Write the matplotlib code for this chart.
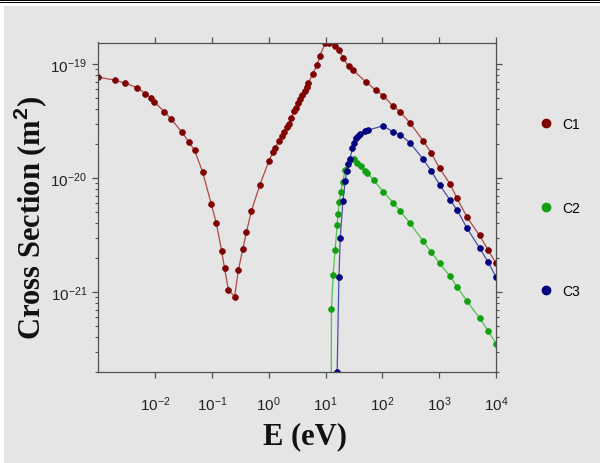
import matplotlib
matplotlib.use("Agg")
import matplotlib.pyplot as plt
from matplotlib.lines import Line2D
from matplotlib.patches import Rectangle
from matplotlib.ticker import FixedLocator, LogLocator, LogFormatterMathtext, NullFormatter, NullLocator

# ---------------- data ----------------
c1_E = [1.0e-3, 1.97e-3, 2.96e-3, 4.88e-3, 6.76e-3, 8.38e-3, 9.73e-3, 0.0146, 0.0194, 0.0295,
        0.0392, 0.0494, 0.0685, 0.0975, 0.119, 0.148, 0.167, 0.195, 0.251, 0.292,
        0.348, 0.404, 0.495, 0.700, 1.0, 1.19, 1.29, 1.52, 1.70, 1.88,
        2.10, 2.24, 2.47, 2.79, 3.00, 3.28, 3.55, 3.87, 4.27, 4.63,
        4.98, 5.98, 7.12, 7.94, 9.93, 11.7, 14.9, 17.4, 20.5, 25.5,
        30.4, 51.5, 76.3, 103, 154, 205, 308, 522, 717, 1020,
        1549, 2061, 3092, 5140, 7318, 1.0e4]
c1_S = [7.65e-20, 7.20e-20, 6.78e-20, 6.17e-20, 5.47e-20, 5.07e-20, 4.62e-20, 3.80e-20, 3.26e-20, 2.53e-20,
        2.07e-20, 1.75e-20, 1.13e-20, 5.89e-21, 4.05e-21, 2.30e-21, 1.61e-21, 1.04e-21, 9.12e-22, 1.55e-21,
        2.36e-21, 3.33e-21, 5.15e-21, 8.71e-21, 1.40e-20, 1.68e-20, 1.84e-20, 2.11e-20, 2.31e-20, 2.51e-20,
        2.81e-20, 3.00e-20, 3.33e-20, 3.86e-20, 4.12e-20, 4.56e-20, 4.90e-20, 5.36e-20, 5.73e-20, 6.25e-20,
        6.82e-20, 8.23e-20, 9.80e-20, 1.18e-19, 1.53e-19, 1.52e-19, 1.43e-19, 1.32e-19, 1.12e-19, 9.51e-20,
        8.83e-20, 6.93e-20, 5.89e-20, 5.28e-20, 4.27e-20, 3.80e-20, 3.03e-20, 2.12e-20, 1.67e-20, 1.21e-20,
        8.89e-21, 6.62e-21, 4.53e-21, 3.13e-21, 2.32e-21, 1.78e-21]

c2_E = [12.4, 12.7, 13.6, 14.7, 16.0, 16.5, 17.5, 18.5, 20.0, 22.1,
        26.9, 31.6, 35.4, 41.7, 49.0, 53.6, 70.7, 103, 154, 205,
        308, 515, 722, 1020, 1549, 2061, 3092, 5140, 7318, 1.0e4]
c2_S = [1.0e-23, 7.06e-22, 1.42e-21, 2.32e-21, 3.85e-21, 4.85e-21, 6.15e-21, 7.49e-21, 9.25e-21, 1.17e-20,
        1.45e-20, 1.46e-20, 1.36e-20, 1.26e-20, 1.16e-20, 1.11e-20, 9.53e-21, 7.60e-21, 6.07e-21, 5.11e-21,
        4.01e-21, 2.81e-21, 2.24e-21, 1.78e-21, 1.38e-21, 1.11e-21, 8.30e-22, 5.89e-22, 4.56e-22, 3.51e-22]

c3_E = [16.0, 17.2, 18.1, 20.2, 22.2, 23.6, 25.3, 26.9, 29.7, 31.9,
        35.0, 37.2, 41.2, 49.4, 55.8, 103, 153, 203, 308, 522,
        717, 1020, 1549, 2061, 3092, 5140, 7318, 9930]
c3_S = [2.0e-22, 1.36e-21, 2.95e-21, 6.30e-21, 9.39e-21, 1.16e-20, 1.32e-20, 1.46e-20, 1.82e-20, 2.02e-20,
        2.22e-20, 2.34e-20, 2.44e-20, 2.57e-20, 2.63e-20, 2.86e-20, 2.54e-20, 2.40e-20, 2.03e-20, 1.46e-20,
        1.16e-20, 8.69e-21, 6.40e-21, 5.26e-21, 3.62e-21, 2.43e-21, 1.82e-21, 1.36e-21]

series_labels = ["C1", "C2", "C3"]
x_ticks = [1e-2, 1e-1, 1e0, 1e1, 1e2, 1e3, 1e4]
y_ticks = [1e-21, 1e-20, 1e-19]

# ---------------- style ----------------
plt.rcParams['font.family'] = ['Liberation Sans', 'DejaVu Sans']
plt.rcParams['mathtext.fontset'] = 'custom'
plt.rcParams['mathtext.rm'] = 'Liberation Sans'
plt.rcParams['mathtext.it'] = 'Liberation Sans:italic'
plt.rcParams['mathtext.bf'] = 'Liberation Sans:bold'

bg = '#e5e5e5'
spine_c = '#505050'
line_cols = ['#b04848', '#4fc04f', '#4a50a8']
mark_cols = ['#800000', '#10a010', '#000080']

W, H = 600, 464
fig = plt.figure(figsize=(6, 4.64), dpi=100, facecolor='white')
# grey page with thin white margin and black rules at top
fig.add_artist(Rectangle((4 / W, 0), 1 - 4 / W, 1 - 7 / H, transform=fig.transFigure,
                         facecolor=bg, edgecolor='none', zorder=-10))
fig.add_artist(Rectangle((0, 1 - 2.2 / H), 1, 2.2 / H, transform=fig.transFigure,
                         facecolor='black', edgecolor='none', zorder=-9))
fig.add_artist(Rectangle((0, 1 - 4.3 / H), 1, 1.0 / H, transform=fig.transFigure,
                         facecolor='black', edgecolor='none', zorder=-9))

ax = fig.add_axes([98.3 / W, 1 - 372.7 / H, (496 - 98.3) / W, (372.7 - 43.5) / H])
ax.set_facecolor('none')
ax.set_xscale('log')
ax.set_yscale('log')
ax.set_xlim(1e-3, 1e4)
ax.set_ylim(2.0e-22, 1.54e-19)

for E, S, lc, mc in zip([c1_E, c2_E, c3_E], [c1_S, c2_S, c3_S], line_cols, mark_cols):
    ax.plot(E, S, color=lc, lw=0.9, marker='o', ms=4.2, mfc=mc, mec=mc, mew=0.5)

for sp in ax.spines.values():
    sp.set_color(spine_c)
    sp.set_linewidth(0.9)

ax.xaxis.set_major_locator(FixedLocator(x_ticks))
ax.xaxis.set_minor_locator(NullLocator())
ax.xaxis.set_major_formatter(LogFormatterMathtext())
ax.yaxis.set_major_locator(FixedLocator(y_ticks))
ax.yaxis.set_minor_locator(LogLocator(base=10, subs=range(2, 10), numticks=20))
ax.yaxis.set_minor_formatter(NullFormatter())
ax.yaxis.set_major_formatter(LogFormatterMathtext())

ax.tick_params(axis='both', which='both', direction='out', color=spine_c,
               top=True, right=True, labeltop=False, labelright=False)
ax.tick_params(axis='both', which='major', length=4, width=0.9, labelsize=11, labelcolor='#222222')
ax.tick_params(axis='y', which='minor', length=2.5, width=0.8)
ax.tick_params(axis='x', which='major', pad=12)
ax.tick_params(axis='y', which='major', pad=4)

fig.text(30 / W, 1 - 218 / H, 'Cross Section (m$^{\\mathbf{2}}$)', rotation=90,
         ha='center', va='center', fontsize=22, fontweight='bold', family='Liberation Serif',
         color='#111111')
fig.text(305 / W, 1 - 437 / H, 'E (eV)', ha='center', va='center', fontsize=22,
         fontweight='bold', family='Liberation Serif', color='#111111')

handles = [Line2D([], [], ls='none', marker='o', ms=6, mfc=c, mec=c) for c in mark_cols]
fig.legend(handles, series_labels, loc='center left', bbox_to_anchor=(525 / W, 1 - 208.5 / H),
           frameon=False, fontsize=10, labelspacing=5.0, handletextpad=0.6, handlelength=1.2)

fig.savefig('out.png', dpi=100, facecolor=fig.get_facecolor())
